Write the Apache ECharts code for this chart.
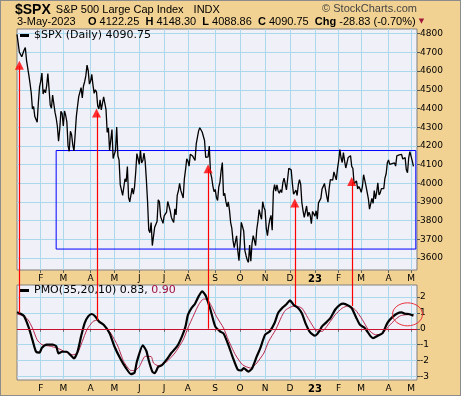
<!DOCTYPE html>
<html>
<head>
<meta charset="utf-8">
<script src="https://cdn.jsdelivr.net/npm/echarts@6/dist/echarts.min.js"></script>
<style>
html, body { margin: 0; padding: 0; background: #fff; }
#frame {
    position: absolute; left: 0; top: 0;
    width: 459px; height: 394px;
    border: 1px solid #8c8c8c;
    background: #f2d292;
}
#chart { position: absolute; left: 0; top: 0; width: 464px; height: 397px; }
</style>
</head>
<body>
<div id="frame"></div>
<div id="chart"></div>
<script>
// trading days, month by month
const months = ['2022-01', '2022-02', '2022-03', '2022-04', '2022-05', '2022-06', '2022-07', '2022-08',
    '2022-09', '2022-10', '2022-11', '2022-12', '2023-01', '2023-02', '2023-03', '2023-04', '2023-05']
const monthDays = [
    [3, 4, 5, 6, 7, 10, 11, 12, 13, 14, 18, 19, 20, 21, 24, 25, 26, 27, 28, 31],
    [1, 2, 3, 4, 7, 8, 9, 10, 11, 14, 15, 16, 17, 18, 22, 23, 24, 25, 28],
    [1, 2, 3, 4, 7, 8, 9, 10, 11, 14, 15, 16, 17, 18, 21, 22, 23, 24, 25, 28, 29, 30, 31],
    [1, 4, 5, 6, 7, 8, 11, 12, 13, 14, 18, 19, 20, 21, 22, 25, 26, 27, 28, 29],
    [2, 3, 4, 5, 6, 9, 10, 11, 12, 13, 16, 17, 18, 19, 20, 23, 24, 25, 26, 27, 31],
    [1, 2, 3, 6, 7, 8, 9, 10, 13, 14, 15, 16, 17, 21, 22, 23, 24, 27, 28, 29, 30],
    [1, 5, 6, 7, 8, 11, 12, 13, 14, 15, 18, 19, 20, 21, 22, 25, 26, 27, 28, 29],
    [1, 2, 3, 4, 5, 8, 9, 10, 11, 12, 15, 16, 17, 18, 19, 22, 23, 24, 25, 26, 29, 30, 31],
    [1, 2, 6, 7, 8, 9, 12, 13, 14, 15, 16, 19, 20, 21, 22, 23, 26, 27, 28, 29, 30],
    [3, 4, 5, 6, 7, 10, 11, 12, 13, 14, 17, 18, 19, 20, 21, 24, 25, 26, 27, 28, 31],
    [1, 2, 3, 4, 7, 8, 9, 10, 11, 14, 15, 16, 17, 18, 21, 22, 23, 25, 28, 29, 30],
    [1, 2, 5, 6, 7, 8, 9, 12, 13, 14, 15, 16, 19, 20, 21, 22, 23, 27, 28, 29, 30],
    [3, 4, 5, 6, 9, 10, 11, 12, 13, 17, 18, 19, 20, 23, 24, 25, 26, 27, 30, 31],
    [1, 2, 3, 6, 7, 8, 9, 10, 13, 14, 15, 16, 17, 21, 22, 23, 24, 27, 28],
    [1, 2, 3, 6, 7, 8, 9, 10, 13, 14, 15, 16, 17, 20, 21, 22, 23, 24, 27, 28, 29, 30, 31],
    [3, 4, 5, 6, 10, 11, 12, 13, 14, 17, 18, 19, 20, 21, 24, 25, 26, 27, 28],
    [1, 2, 3]
]

// $SPX daily closes
const closes = [
    4796.56, 4793.54, 4700.58, 4696.05, 4677.03, 4670.29, 4713.07, 4726.35, 4659.03, 4662.85, 4577.11, 4532.76, 4482.73, 4397.94, 4410.13, 4356.45, 4349.93, 4326.51, 4431.85, 4515.55,
    4546.54, 4589.38, 4477.44, 4500.53, 4483.87, 4521.54, 4587.18, 4504.08, 4418.64, 4401.67, 4471.07, 4475.01, 4380.26, 4348.87, 4304.76, 4225.50, 4288.70, 4384.65, 4373.94,
    4306.26, 4386.54, 4363.49, 4328.87, 4201.09, 4170.70, 4277.88, 4259.52, 4204.31, 4173.11, 4262.45, 4357.86, 4411.67, 4463.12, 4461.18, 4511.61, 4456.24, 4520.16, 4543.06, 4575.52, 4631.60, 4602.45, 4530.41,
    4545.86, 4582.64, 4525.12, 4481.15, 4500.21, 4488.28, 4412.53, 4397.45, 4446.59, 4392.59, 4391.69, 4462.21, 4459.45, 4393.66, 4271.78, 4296.12, 4175.20, 4183.96, 4287.50, 4131.93,
    4155.38, 4175.48, 4300.17, 4146.87, 4123.34, 3991.24, 4001.05, 3935.18, 3930.08, 4023.89, 4008.01, 4088.85, 3923.68, 3900.79, 3901.36, 3973.75, 3941.48, 3978.73, 4057.84, 4158.24, 4132.15,
    4101.23, 4176.82, 4108.54, 4121.43, 4160.68, 4115.77, 4017.82, 3900.86, 3749.63, 3735.48, 3789.99, 3666.77, 3674.84, 3764.79, 3759.89, 3795.73, 3911.74, 3900.11, 3821.55, 3818.83, 3785.38,
    3825.33, 3831.39, 3845.08, 3902.62, 3899.38, 3854.43, 3818.80, 3801.78, 3790.38, 3863.16, 3830.85, 3936.69, 3959.90, 3998.95, 3961.63, 3966.84, 3921.05, 4023.61, 4072.43, 4130.29,
    4118.63, 4091.19, 4155.17, 4151.94, 4145.19, 4140.06, 4122.47, 4210.24, 4207.27, 4280.15, 4297.14, 4305.20, 4274.04, 4283.74, 4228.48, 4137.99, 4128.73, 4140.77, 4199.12, 4057.66, 4030.61, 3986.16, 3955.00,
    3966.85, 3924.26, 3908.19, 3979.87, 4006.18, 4067.36, 4110.41, 3932.69, 3946.01, 3901.35, 3873.33, 3899.89, 3855.93, 3789.93, 3757.99, 3693.23, 3655.04, 3647.29, 3719.04, 3640.47, 3585.62,
    3678.43, 3790.93, 3783.28, 3744.52, 3639.66, 3612.39, 3588.84, 3577.03, 3669.91, 3583.07, 3677.95, 3719.98, 3695.16, 3665.78, 3752.75, 3797.34, 3859.11, 3830.60, 3807.30, 3901.06, 3871.98,
    3856.10, 3759.69, 3719.89, 3770.55, 3806.80, 3828.11, 3748.57, 3956.37, 3992.93, 3957.25, 3991.73, 3958.79, 3946.56, 3965.34, 3949.94, 4003.58, 4027.26, 4026.12, 3963.94, 3957.63, 4080.11,
    4076.57, 4071.70, 3998.84, 3941.26, 3933.92, 3963.51, 3934.38, 3990.56, 4019.65, 3995.32, 3895.75, 3852.36, 3817.66, 3821.62, 3878.44, 3822.39, 3844.82, 3829.25, 3783.22, 3849.28, 3839.50,
    3824.14, 3852.97, 3808.10, 3895.08, 3892.09, 3919.25, 3969.61, 3983.17, 3999.09, 3990.97, 3928.86, 3898.85, 3972.61, 4019.81, 4016.95, 4016.22, 4060.43, 4070.56, 4017.77, 4076.60,
    4119.21, 4179.76, 4136.48, 4111.08, 4164.00, 4117.86, 4081.50, 4090.46, 4137.29, 4136.13, 4147.60, 4090.41, 4079.09, 3997.34, 3991.05, 4012.32, 3970.04, 3982.24, 3970.15,
    3951.39, 3981.35, 4045.64, 4048.42, 3986.37, 3992.01, 3918.32, 3861.59, 3855.76, 3919.29, 3891.93, 3960.28, 3916.64, 3951.57, 4002.87, 3936.97, 3948.72, 3970.99, 3977.53, 3971.27, 4027.81, 4050.83, 4109.31,
    4124.51, 4100.60, 4090.38, 4105.02, 4109.11, 4108.94, 4091.95, 4146.22, 4137.64, 4151.32, 4154.87, 4154.52, 4129.79, 4133.52, 4137.04, 4071.63, 4055.99, 4135.35, 4169.48,
    4167.87, 4119.58, 4090.75
]

// PMO(35,20,10), by trading-day index
const pmoIdx = [0, 3, 6, 10, 13, 16, 19, 21, 25, 30, 33, 35, 38, 42, 45, 48, 51, 54, 57, 60, 63, 66, 69, 73, 78, 82, 87, 92, 96, 99, 101, 106, 109, 111, 114, 116, 119, 122, 126, 130, 135, 139, 142, 144, 147, 150, 153, 156, 159, 163, 167, 171, 174, 178, 182, 186, 189, 191, 195, 198, 202, 205, 209, 213, 217, 220, 224, 227, 230, 233, 237, 240, 243, 247, 251, 254, 257, 260, 264, 268, 272, 275, 279, 282, 286, 289, 293, 298, 300, 304, 308, 312, 316, 320, 324, 327, 330, 334]
const pmoVal = [1.04, 0.95, 0.8, 0.05, -0.7, -1.44, -1.5, -1.2, -1.0, -1.0, -1.1, -1.55, -1.45, -1.45, -1.65, -1.87, -1.45, -0.48, 0.36, 0.78, 0.93, 0.78, 0.46, 0.25, -0.28, -1.1, -1.87, -2.5, -2.86, -2.77, -2.08, -1.05, -1.4, -2.0, -2.7, -2.8, -2.4, -2.3, -1.95, -1.53, -1.1, -0.48, 0.15, 0.88, 1.3, 1.58, 2.04, 2.36, 2.08, 1.2, 0.15, -0.16, -0.3, -1.0, -1.85, -2.58, -2.63, -2.48, -2.7, -2.5, -1.74, -1.22, -0.38, -0.16, 0.36, 1.0, 1.35, 1.55, 1.79, 1.51, 1.3, 0.98, 0.36, -0.23, -0.44, -0.23, 0.15, 0.36, 0.67, 1.2, 1.51, 1.58, 1.47, 1.3, 0.67, 0.25, 0.05, -0.48, -0.59, -0.44, -0.27, 0.36, 0.72, 0.95, 1.03, 0.95, 0.93, 0.83]
const sigIdx = [0, 4, 9, 13, 17, 21, 28, 34, 40, 47, 51, 55, 59, 64, 68, 73, 79, 85, 90, 96, 99, 103, 108, 113, 115, 119, 126, 133, 140, 144, 149, 153, 157, 160, 164, 168, 174, 178, 184, 190, 197, 202, 208, 212, 218, 223, 226, 230, 234, 240, 246, 253, 257, 263, 268, 274, 279, 285, 291, 296, 302, 308, 313, 319, 323, 327, 334]
const sigVal = [0.93, 0.85, 0.6, 0.05, -0.7, -1.0, -1.1, -1.22, -1.43, -1.64, -1.53, -0.8, -0.05, 0.46, 0.55, 0.25, -0.28, -1.1, -2.08, -2.63, -2.63, -2.4, -1.74, -1.75, -2.16, -2.33, -2.08, -1.53, -0.7, 0.05, 0.88, 1.51, 1.87, 1.87, 1.41, 0.78, 0.05, -0.7, -1.64, -2.27, -2.48, -2.16, -1.53, -0.8, -0.05, 0.78, 1.16, 1.35, 1.45, 1.3, 0.57, -0.16, -0.16, 0.36, 0.88, 1.3, 1.45, 1.2, 0.57, -0.05, -0.38, -0.3, 0.15, 0.6, 0.82, 0.88, 0.9]

const priceTicks = [3600, 3700, 3800, 3900, 4000, 4100, 4200, 4300, 4400, 4500, 4600, 4700, 4800]
const pmoTicks = [-3, -2, -1, 0, 1, 2]
const monthLetters = ['J', 'F', 'M', 'A', 'M', 'J', 'J', 'A', 'S', 'O', 'N', 'D']

// annotations: arrows on price, where the red line lands on PMO
const arrowIdx = [2, 67, 161, 234, 282]
const arrowPrice = [4655, 4400, 4102, 3918, 4034]
const arrowPmo = [1.0, 0.55, 0.0, 1.5, 1.43]
const boxX = [33, 336]
const boxY = [4175, 3648]
const circleIdx = 329
const circleVal = 0.91

const dates = []
const monthStart = new Set()
months.forEach((m, i) => {
    monthDays[i].forEach((d, j) => {
        if (j === 0 && dates.length > 0) monthStart.add(dates.length)
        dates.push(m + '-' + String(d).padStart(2, '0'))
    })
})
const categories = dates.concat(['pad1', 'pad2', 'pad3'])
const isMonth = (i) => monthStart.has(i)

const gridCol = '#a9d9ea'
const axisFont = 'DejaVu Sans'

const monthLabel = (v) => {
    if (v.startsWith('pad')) return ''
    const mo = parseInt(v.slice(5, 7), 10)
    if (mo === 1) return '{b|' + v.slice(2, 4) + '}'
    return monthLetters[mo - 1]
}

const makeX = (gridIndex) => ({
    type: 'category',
    gridIndex: gridIndex,
    data: categories,
    boundaryGap: false,
    axisLine: { show: false },
    axisTick: { show: true, interval: isMonth, length: 3, lineStyle: { color: '#666' } },
    axisLabel: {
        interval: isMonth,
        formatter: monthLabel,
        fontFamily: axisFont,
        fontSize: 9,
        color: '#000',
        margin: 4,
        rich: { b: { fontFamily: axisFont, fontSize: 10, fontWeight: 'bold', color: '#000' } }
    },
    splitLine: { show: true, interval: isMonth, lineStyle: { color: gridCol, width: 1 } }
})

const makeY = (gridIndex, min, max, ticks) => ({
    type: 'value',
    gridIndex: gridIndex,
    position: 'right',
    min: min,
    max: max,
    axisLine: { show: false },
    axisTick: { show: true, customValues: ticks, length: 3, lineStyle: { color: '#555' } },
    axisLabel: {
        customValues: ticks,
        formatter: (v) => String(v),
        fontFamily: axisFont, fontSize: 9, color: '#000', margin: 3
    },
    splitLine: { show: true, lineStyle: { color: gridCol, width: 1 } }
})

const chart = echarts.init(document.getElementById('chart'))

chart.setOption({
    animation: false,
    backgroundColor: 'transparent',
    title: [{
        left: 15, top: 1, padding: 0,
        text: '{a|$SPX} {b|S&P 500 Large Cap Index}  {b|INDX}',
        textStyle: {
            fontWeight: 'normal',
            rich: {
                a: { fontFamily: 'Liberation Sans', fontSize: 14, fontWeight: 'bold', color: '#000', lineHeight: 16 },
                b: { fontFamily: 'Liberation Sans', fontSize: 11, fontWeight: 'normal', color: '#000', lineHeight: 16 }
            }
        }
    }, {
        right: 47, top: 3, padding: 0,
        text: '© StockCharts.com',
        textStyle: { fontFamily: 'Liberation Sans', fontSize: 11, fontWeight: 'normal', color: '#444' }
    }, {
        left: 17, top: 16, padding: 0,
        text: '3-May-2023    {b|O} 4122.25  {b|H} 4148.30  {b|L} 4088.86  {b|C} 4090.75  {b|Chg} -28.83 (-0.70%) {r|▼}',
        textStyle: {
            fontFamily: 'Liberation Sans', fontSize: 11, fontWeight: 'normal', color: '#000',
            rich: {
                b: { fontFamily: 'Liberation Sans', fontSize: 11, fontWeight: 'bold', color: '#000' },
                r: { fontFamily: 'DejaVu Sans', fontSize: 7, color: '#a01838' }
            }
        }
    }],
    legend: [{
        data: ['$SPX'],
        left: 20, top: 30, padding: 0,
        icon: 'rect', itemWidth: 9, itemHeight: 3,
        selectedMode: false,
        formatter: () => '$SPX (Daily) 4090.75',
        textStyle: { fontFamily: 'DejaVu Sans', fontSize: 11, color: '#000' }
    }, {
        data: ['PMO'],
        left: 20, top: 285, padding: 0,
        icon: 'rect', itemWidth: 9, itemHeight: 3,
        selectedMode: false,
        formatter: () => '{k|PMO(35,20,10) 0.83,} {r|0.90}',
        textStyle: {
            fontFamily: 'DejaVu Sans', fontSize: 11, color: '#000',
            rich: {
                k: { fontFamily: 'DejaVu Sans', fontSize: 11, color: '#000' },
                r: { fontFamily: 'DejaVu Sans', fontSize: 11, color: '#a0103c' }
            }
        }
    }],
    grid: [
        { left: 17, right: 47, top: 29, bottom: 127, show: true, backgroundColor: '#f0f0f8', borderColor: '#808080', borderWidth: 1 },
        { left: 17, right: 47, top: 285, bottom: 17, show: true, backgroundColor: '#f0f0f8', borderColor: '#808080', borderWidth: 1 }
    ],
    xAxis: [makeX(0), makeX(1)],
    yAxis: [makeY(0, 3536, 4825, priceTicks), makeY(1, -3.23, 2.76, pmoTicks)],
    series: [{
        name: '$SPX',
        type: 'line',
        xAxisIndex: 0, yAxisIndex: 0,
        data: closes,
        color: '#000',
        showSymbol: false,
        lineStyle: { color: '#000', width: 1.3 },
        z: 3,
        markArea: {
            silent: true,
            itemStyle: { color: 'rgba(0,0,0,0)', borderColor: '#0000ff', borderWidth: 1 },
            data: [[{ xAxis: boxX[0], yAxis: boxY[0] }, { xAxis: boxX[1], yAxis: boxY[1] }]]
        }
    }, {
        name: 'arrows',
        type: 'scatter',
        xAxisIndex: 0, yAxisIndex: 0,
        data: arrowIdx.map((x, i) => [x, arrowPrice[i]]),
        symbol: 'triangle',
        symbolSize: [9, 9],
        symbolOffset: [0, '50%'],
        itemStyle: { color: '#ff0000' },
        silent: true,
        z: 6
    }, {
        name: 'PMO',
        type: 'line',
        xAxisIndex: 1, yAxisIndex: 1,
        data: pmoIdx.map((x, i) => [x, pmoVal[i]]),
        color: '#000',
        showSymbol: false,
        smooth: 0.2,
        lineStyle: { color: '#000', width: 2.2 },
        z: 4,
        markLine: {
            silent: true,
            symbol: 'none',
            label: { show: false },
            lineStyle: { color: '#c8102e', width: 1, type: 'solid' },
            data: [{ yAxis: 0 }]
        }
    }, {
        name: 'Signal',
        type: 'line',
        xAxisIndex: 1, yAxisIndex: 1,
        data: sigIdx.map((x, i) => [x, sigVal[i]]),
        color: '#b8284c',
        showSymbol: false,
        smooth: 0.2,
        lineStyle: { color: '#b8284c', width: 1 },
        z: 3
    }]
})

// red connector lines from each arrow down into the PMO panel, plus the circle
const marks = []
arrowIdx.forEach((idx, i) => {
    const top = chart.convertToPixel({ gridIndex: 0 }, [idx, arrowPrice[i]])
    const bot = chart.convertToPixel({ gridIndex: 1 }, [idx, arrowPmo[i]])
    const x = Math.round(top[0]) + 0.5
    marks.push({
        type: 'line',
        z: 100,
        silent: true,
        shape: { x1: x, y1: top[1] + 5, x2: x, y2: bot[1] },
        style: { stroke: '#ff0000', lineWidth: 1.2 }
    })
})
const c = chart.convertToPixel({ gridIndex: 1 }, [circleIdx, circleVal])
marks.push({
    type: 'ellipse',
    z: 100,
    silent: true,
    shape: { cx: c[0], cy: c[1], rx: 15, ry: 11.5 },
    style: { fill: 'none', stroke: '#e8303a', lineWidth: 1 }
})
chart.setOption({ graphic: marks })
</script>
</body>
</html>
